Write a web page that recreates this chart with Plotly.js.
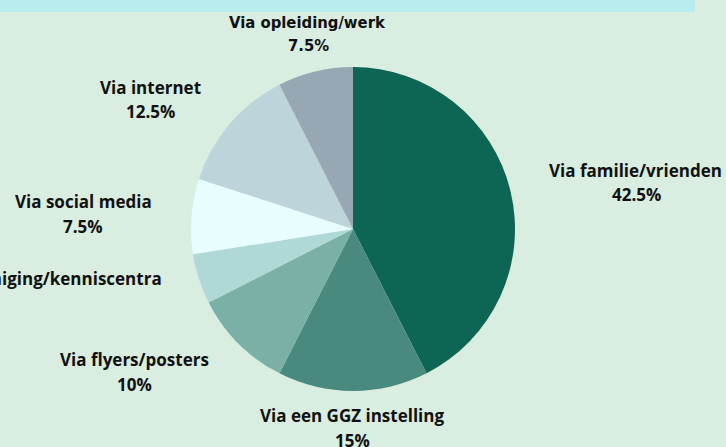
<!DOCTYPE html>
<html>
<head>
<meta charset="utf-8">
<script src="https://cdn.plot.ly/plotly-3.0.1.min.js"></script>
<style>
html,body{margin:0;padding:0;background:#d9ede0;}
#chart{width:726px;height:447px;}
</style>
</head>
<body>
<div id="chart"></div>
<script>
const categories = ["Via familie/vrienden","Via een GGZ instelling","Via flyers/posters","Via patiëntenvereniging/kenniscentra","Via social media","Via internet","Via opleiding/werk"];
const values = [42.5, 15, 10, 5, 7.5, 12.5, 7.5];
const pctLabels = ["42.5%","15%","10%","","7.5%","12.5%","7.5%"];
const colors = ["#0d6654","#4a8a7e","#7bb0a6","#b0d8d6","#e8fdfd","#bcd4da","#97a8b4"];

const W = 726, H = 447;
const M = {l:191, r:211, t:67, b:56};
const pw = W - M.l - M.r, ph = H - M.t - M.b;
function px(x){ return (x - M.l)/pw; }
function py(y){ return 1 - (y - M.t)/ph; }

// label anchor positions in pixels [nameX, nameY, pctX, pctY, xanchor]
const labelPos = [
  [635,170,636,194,'center'],
  [352,416,352,440,'center'],
  [134,359,134,384,'center'],
  [164,278,null,null,'right'],
  [83,201,83,226,'center'],
  [150,88,150,112,'center'],
  [307,22,308,46,'center']
];

const annotations = [];
categories.forEach((c,i)=>{
  const p = labelPos[i];
  const narrow = i===6;
  const fam = narrow ? '"Liberation Sans Narrow", "DejaVu Sans Condensed", sans-serif' : '"Open Sans", "Noto Sans", sans-serif';
  const size = narrow ? 16.5 : 17;
  annotations.push({xref:'paper',yref:'paper',x:px(p[0]),y:py(p[1]),text:'<b>'+c+'</b>',showarrow:false,
    xanchor:p[4],yanchor:'middle',font:{family:fam,size:size,color:'#111'}});
  if(pctLabels[i]){
    annotations.push({xref:'paper',yref:'paper',x:px(p[2]),y:py(p[3]),text:'<b>'+pctLabels[i]+'</b>',showarrow:false,
      xanchor:'center',yanchor:'middle',font:{family:fam,size:size,color:'#111'}});
  }
});

const data = [{
  type:'pie',
  labels:categories,
  values:values,
  sort:false,
  direction:'clockwise',
  rotation:0,
  marker:{colors:colors,line:{width:0}},
  textinfo:'none',
  hoverinfo:'none'
}];

const layout = {
  width:W,height:H,
  margin:M,
  paper_bgcolor:'#d9ede0',
  plot_bgcolor:'#d9ede0',
  showlegend:false,
  annotations:annotations,
  shapes:[{type:'rect',xref:'paper',yref:'paper',x0:px(0),x1:px(695),y0:py(12),y1:py(-5),fillcolor:'#b9ecec',line:{width:0},layer:'below'}]
};

Plotly.newPlot('chart',data,layout,{displayModeBar:false,staticPlot:true});
</script>
</body>
</html>
